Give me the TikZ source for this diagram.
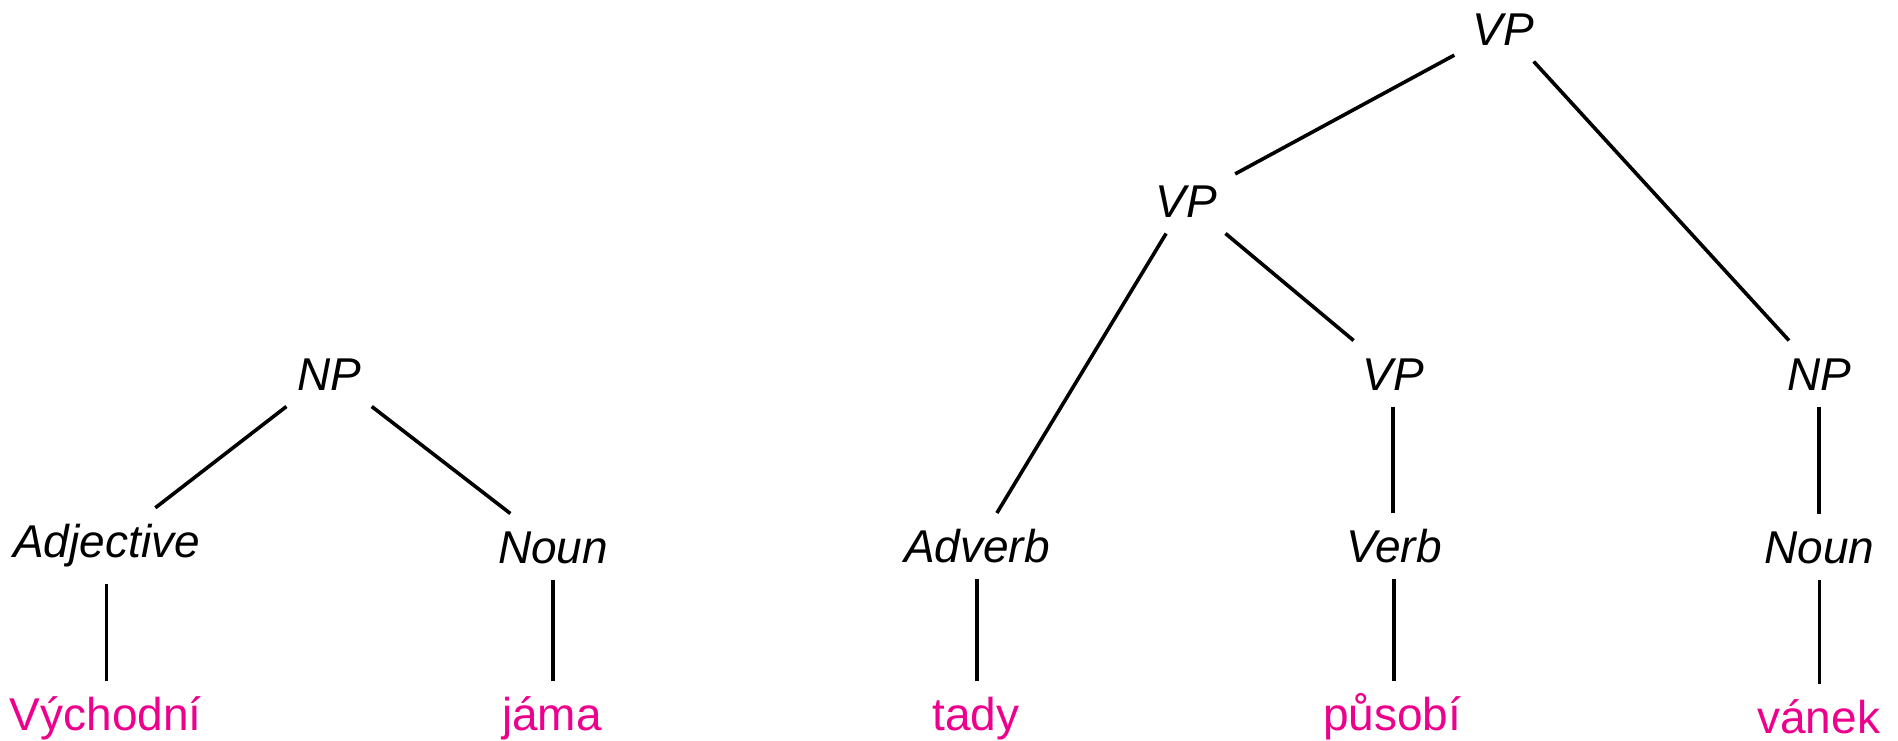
\documentclass[tikz,border=0pt]{standalone}
\usepackage{fontspec}
\setmainfont{Liberation Sans}
\definecolor{wordpink}{RGB}{236,0,140}
\begin{document}
\begin{tikzpicture}[x=1pt,y=-1pt,
  lbl/.style={font=\fontsize{46}{55}\selectfont\itshape, text height=33pt, text depth=0pt,
              inner xsep=18.5pt, inner ysep=16.5pt, outer sep=0pt, anchor=base},
  word/.style={lbl, font=\fontsize{46}{55}\selectfont, text=wordpink},
  edge/.style={line width=3.6pt, black}]
\useasboundingbox (0,0) rectangle (1898,740);
% left tree
\node[lbl] (np1) at (329,390) {NP};
\node[lbl, text depth=9.7pt] (adj) at (106.5,557.3) {Adjective};
\node[lbl] (noun1) at (553,563) {Noun};
\node[word] (w1) at (105.7,730.7) {Východní};
\node[word] (w2) at (552,730.7) {jáma};
% right tree
\node[lbl] (vp1) at (1503.5,45) {VP};
\node[lbl] (vp2) at (1186,217) {VP};
\node[lbl] (vp3) at (1393,390) {VP};
\node[lbl] (np2) at (1819,390) {NP};
\node[lbl] (adv) at (977,562.5) {Adverb};
\node[lbl] (verb) at (1394,562.5) {Verb};
\node[lbl] (noun2) at (1819.5,563) {Noun};
\node[word] (w3) at (976,730.5) {tady};
\node[word] (w4) at (1392.3,730.5) {působí};
\node[word] (w5) at (1818.7,733.5) {vánek};
% edges
\draw[edge] (np1) -- (adj);
\draw[edge] (np1) -- (noun1);
\draw[edge] (adj.south) -- (adj.south |- w1.north);
\draw[edge] (noun1.south) -- (noun1.south |- w2.north);
\draw[edge] (vp1) -- (vp2);
\draw[edge] (vp1) -- (np2);
\draw[edge] (vp2) -- (adv);
\draw[edge] (vp2) -- (vp3);
\draw[edge] (vp3.south) -- (vp3.south |- verb.north);
\draw[edge] (np2.south) -- (np2.south |- noun2.north);
\draw[edge] (adv.south) -- (adv.south |- w3.north);
\draw[edge] (verb.south) -- (verb.south |- w4.north);
\draw[edge] (noun2.south) -- (noun2.south |- w5.north);
\end{tikzpicture}
\end{document}
